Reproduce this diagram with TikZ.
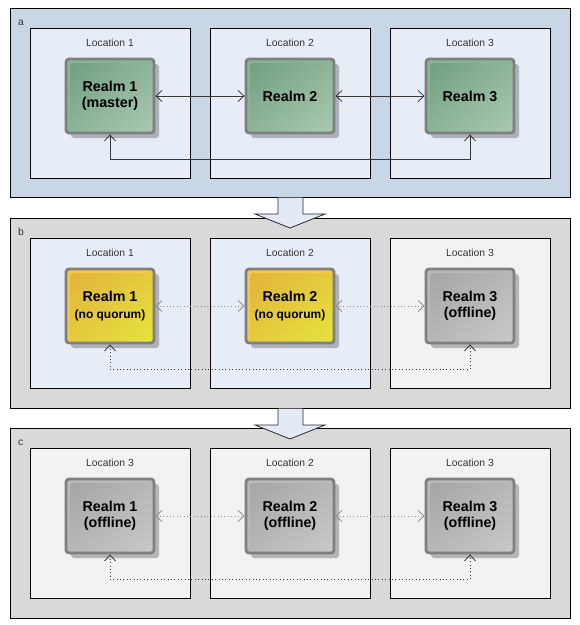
\documentclass[tikz,border=0pt]{standalone}
\usepackage{fontspec}
\setmainfont{Liberation Sans}
\usetikzlibrary{arrows.meta,calc,shadows,shadings}

\definecolor{panelblue}{HTML}{C9D6E6}
\definecolor{panelgray}{HTML}{D9D9D9}
\definecolor{locblue}{HTML}{E7EDF7}
\definecolor{locgray}{HTML}{F2F2F2}
\definecolor{realmedge}{HTML}{7F7F7F}
\definecolor{grnrim}{HTML}{88B594}
\definecolor{grnA}{HTML}{6E9E7E}
\definecolor{grnB}{HTML}{ABC9B3}
\definecolor{ylwrim}{HTML}{F4C949}
\definecolor{ylwA}{HTML}{E2B13C}
\definecolor{ylwB}{HTML}{E6E43C}
\definecolor{gryrim}{HTML}{B9B9B9}
\definecolor{gryA}{HTML}{A4A4A4}
\definecolor{gryB}{HTML}{C9C9C9}
\definecolor{flowfill}{HTML}{E3EAF6}
\definecolor{linkdark}{HTML}{383838}
\definecolor{linkgray}{HTML}{8E8E8E}
\definecolor{labeltext}{HTML}{333333}

\newcommand\subline[1]{{\fontsize{12}{16}\selectfont #1}}

\tikzset{
  panel/.style={draw=black, line width=0.8pt},
  locbox/.style={draw=black, line width=0.8pt},
  loclabel/.style={anchor=base, inner sep=0pt, text=labeltext, font=\fontsize{10.3}{12}\selectfont},
  panellabel/.style={anchor=base west, inner sep=0pt, text=labeltext, font=\fontsize{10.3}{12}\selectfont},
  realm/.style={rectangle, rounded corners=3pt, minimum width=88pt, minimum height=74pt,
    draw=realmedge, line width=2.8pt, inner sep=0pt, align=center, text=black,
    font=\bfseries\fontsize{14.3}{16.5}\selectfont,
    drop shadow={shadow xshift=5pt, shadow yshift=-5pt, fill=black, opacity=0.25}},
  face/.style n args={3}{fill=#1, path picture={
    \shade[upper left=#2, lower right=#3, upper right=#2!50!#3, lower left=#2!50!#3]
      ($(path picture bounding box.north west)+(4pt,-4pt)$) rectangle (path picture bounding box.south east);}},
  greenrealm/.style={realm, face={grnrim}{grnA}{grnB}},
  yellowrealm/.style={realm, face={ylwrim}{ylwA}{ylwB}},
  grayrealm/.style={realm, face={gryrim}{gryA}{gryB}},
  tip/.tip={Straight Barb[length=6pt, width=11pt, line width=0.8pt]},
  link/.style={draw=linkdark, line width=0.8pt, tip-tip},
  dotlink/.style={draw=linkgray, line width=0.9pt, dash pattern=on 1pt off 2.4pt, tip-tip},
  dotlinkdark/.style={draw=linkdark, line width=0.9pt, dash pattern=on 1pt off 2.4pt, tip-tip},
  flowarrow/.style={fill=flowfill},
  flowedge/.style={draw=black!85, line width=0.8pt, line join=miter},
}

\begin{document}
\begin{tikzpicture}[x=1pt, y=-1pt]
\useasboundingbox (0,0) rectangle (580,625);

% ---------- panels ----------
\draw[panel, fill=panelblue] (10,8) rectangle (570,197);
\draw[panel, fill=panelgray] (10,218) rectangle (570,408);
\draw[panel, fill=panelgray] (10,428) rectangle (570,618);
\node[panellabel] (pa) at (18,25) {a};
\node[panellabel] (pb) at (18,235) {b};
\node[panellabel] (pc) at (18,445) {c};

% ---------- panel a ----------
\draw[locbox, fill=locblue] (30,28) rectangle (190,178);
\draw[locbox, fill=locblue] (210,28) rectangle (370,178);
\draw[locbox, fill=locblue] (390,28) rectangle (550,178);
\node[loclabel] (la1) at (110,46.5) {Location 1};
\node[loclabel] (la2) at (290,46.5) {Location 2};
\node[loclabel] (la3) at (470,46.5) {Location 3};
\node[greenrealm] (ra1) at (110,96) {Realm 1\\(master)};
\node[greenrealm] (ra2) at (290,96) {Realm 2};
\node[greenrealm] (ra3) at (470,96) {Realm 3};
\draw[link] (ra1.east) -- (ra2.west);
\draw[link] (ra2.east) -- (ra3.west);
\draw[link] (ra1.south) -- ++(0,25) -| (ra3.south);

% ---------- panel b ----------
\draw[locbox, fill=locblue] (30,238) rectangle (190,388);
\draw[locbox, fill=locblue] (210,238) rectangle (370,388);
\draw[locbox, fill=locgray] (390,238) rectangle (550,388);
\node[loclabel] (lb1) at (110,256.5) {Location 1};
\node[loclabel] (lb2) at (290,256.5) {Location 2};
\node[loclabel] (lb3) at (470,256.5) {Location 3};
\node[yellowrealm] (rb1) at (110,306) {Realm 1\\\subline{(no quorum)}};
\node[yellowrealm] (rb2) at (290,306) {Realm 2\\\subline{(no quorum)}};
\node[grayrealm] (rb3) at (470,306) {Realm 3\\(offline)};
\draw[dotlink] (rb1.east) -- (rb2.west);
\draw[dotlink] (rb2.east) -- (rb3.west);
\draw[dotlinkdark] (rb1.south) -- ++(0,25) -| (rb3.south);

% ---------- panel c ----------
\draw[locbox, fill=locgray] (30,448) rectangle (190,598);
\draw[locbox, fill=locgray] (210,448) rectangle (370,598);
\draw[locbox, fill=locgray] (390,448) rectangle (550,598);
\node[loclabel] (lc1) at (110,466.5) {Location 3};
\node[loclabel] (lc2) at (290,466.5) {Location 2};
\node[loclabel] (lc3) at (470,466.5) {Location 3};
\node[grayrealm] (rc1) at (110,516) {Realm 1\\(offline)};
\node[grayrealm] (rc2) at (290,516) {Realm 2\\(offline)};
\node[grayrealm] (rc3) at (470,516) {Realm 3\\(offline)};
\draw[dotlink] (rc1.east) -- (rc2.west);
\draw[dotlink] (rc2.east) -- (rc3.west);
\draw[dotlinkdark] (rc1.south) -- ++(0,25) -| (rc3.south);

% ---------- transition arrows between panels ----------
\foreach \top in {197.5,408.5}{
  \fill[flowarrow] (278,\top) -- (278,\top+16.5) -- (255,\top+16.5) -- (290,\top+30.5)
    -- (325,\top+16.5) -- (303,\top+16.5) -- (303,\top) -- cycle;
  \draw[flowedge] (278,\top) -- (278,\top+16.5) -- (255,\top+16.5) -- (290,\top+30.5)
    -- (325,\top+16.5) -- (303,\top+16.5) -- (303,\top);
}
\end{tikzpicture}
\end{document}
